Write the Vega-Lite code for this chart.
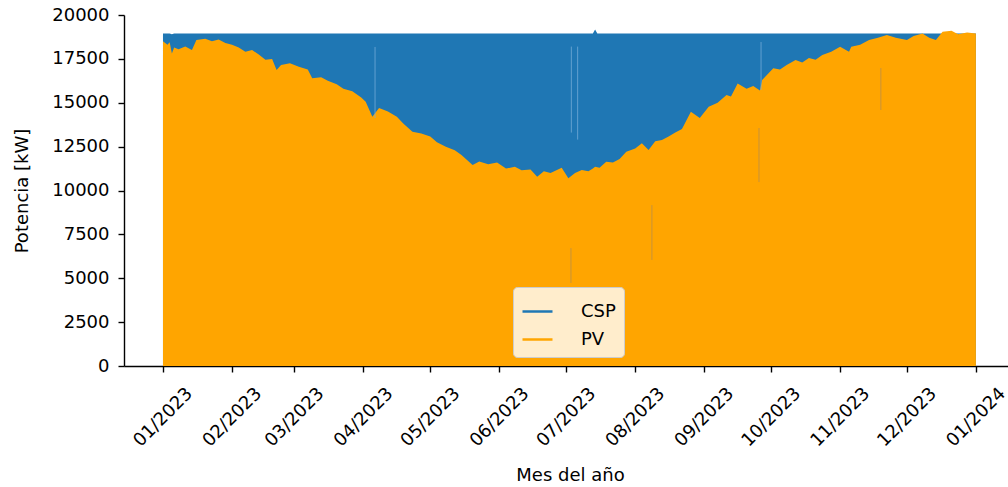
{
  "$schema": "https://vega.github.io/schema/vega-lite/v6.json",
  "width": 884,
  "height": 351,
  "autosize": {"type": "none"},
  "padding": {"left": 124, "top": 15, "right": 0, "bottom": 121},
  "background": "white",
  "datasets": {
    "power": [
      {"d": "2023-01-01", "csp": 18950, "pv": 18500},
      {"d": "2023-01-03", "csp": 18950, "pv": 18300},
      {"d": "2023-01-04", "csp": 18950, "pv": 18450},
      {"d": "2023-01-05", "csp": 18900, "pv": 17800},
      {"d": "2023-01-06", "csp": 18950, "pv": 18150},
      {"d": "2023-01-08", "csp": 18950, "pv": 18050},
      {"d": "2023-01-11", "csp": 18950, "pv": 18200},
      {"d": "2023-01-14", "csp": 18950, "pv": 18000},
      {"d": "2023-01-16", "csp": 18950, "pv": 18575},
      {"d": "2023-01-20", "csp": 18950, "pv": 18650},
      {"d": "2023-01-23", "csp": 18950, "pv": 18500},
      {"d": "2023-01-26", "csp": 18950, "pv": 18600},
      {"d": "2023-01-29", "csp": 18950, "pv": 18400},
      {"d": "2023-02-01", "csp": 18950, "pv": 18300},
      {"d": "2023-02-04", "csp": 18950, "pv": 18150},
      {"d": "2023-02-07", "csp": 18950, "pv": 17900},
      {"d": "2023-02-10", "csp": 18950, "pv": 18000},
      {"d": "2023-02-13", "csp": 18950, "pv": 17750},
      {"d": "2023-02-16", "csp": 18950, "pv": 17450},
      {"d": "2023-02-19", "csp": 18950, "pv": 17500},
      {"d": "2023-02-21", "csp": 18950, "pv": 16870},
      {"d": "2023-02-23", "csp": 18950, "pv": 17150},
      {"d": "2023-02-27", "csp": 18950, "pv": 17250},
      {"d": "2023-03-03", "csp": 18950, "pv": 17050},
      {"d": "2023-03-07", "csp": 18950, "pv": 16900},
      {"d": "2023-03-09", "csp": 18950, "pv": 16400},
      {"d": "2023-03-13", "csp": 18950, "pv": 16450},
      {"d": "2023-03-16", "csp": 18950, "pv": 16250},
      {"d": "2023-03-20", "csp": 18950, "pv": 16050},
      {"d": "2023-03-23", "csp": 18950, "pv": 15800},
      {"d": "2023-03-27", "csp": 18950, "pv": 15650},
      {"d": "2023-03-31", "csp": 18950, "pv": 15300},
      {"d": "2023-04-02", "csp": 18950, "pv": 15050},
      {"d": "2023-04-05", "csp": 18950, "pv": 14200},
      {"d": "2023-04-08", "csp": 18950, "pv": 14700},
      {"d": "2023-04-12", "csp": 18950, "pv": 14500},
      {"d": "2023-04-16", "csp": 18950, "pv": 14200},
      {"d": "2023-04-19", "csp": 18950, "pv": 13800},
      {"d": "2023-04-23", "csp": 18950, "pv": 13350},
      {"d": "2023-04-27", "csp": 18950, "pv": 13250},
      {"d": "2023-05-01", "csp": 18950, "pv": 13070},
      {"d": "2023-05-04", "csp": 18950, "pv": 12750},
      {"d": "2023-05-08", "csp": 18950, "pv": 12500},
      {"d": "2023-05-12", "csp": 18950, "pv": 12300},
      {"d": "2023-05-15", "csp": 18950, "pv": 12020},
      {"d": "2023-05-20", "csp": 18950, "pv": 11450},
      {"d": "2023-05-23", "csp": 18950, "pv": 11650},
      {"d": "2023-05-27", "csp": 18950, "pv": 11500},
      {"d": "2023-05-31", "csp": 18950, "pv": 11600},
      {"d": "2023-06-04", "csp": 18950, "pv": 11250},
      {"d": "2023-06-08", "csp": 18950, "pv": 11350},
      {"d": "2023-06-11", "csp": 18950, "pv": 11150},
      {"d": "2023-06-15", "csp": 18950, "pv": 11200},
      {"d": "2023-06-18", "csp": 18950, "pv": 10790},
      {"d": "2023-06-21", "csp": 18950, "pv": 11100},
      {"d": "2023-06-24", "csp": 18950, "pv": 11000},
      {"d": "2023-06-29", "csp": 18950, "pv": 11300},
      {"d": "2023-07-02", "csp": 18950, "pv": 10700},
      {"d": "2023-07-05", "csp": 18950, "pv": 11000},
      {"d": "2023-07-08", "csp": 18950, "pv": 11170},
      {"d": "2023-07-11", "csp": 18950, "pv": 11100},
      {"d": "2023-07-13", "csp": 18950, "pv": 11250},
      {"d": "2023-07-14", "csp": 19180, "pv": 11360},
      {"d": "2023-07-15", "csp": 18950, "pv": 11330},
      {"d": "2023-07-16", "csp": 18950, "pv": 11300},
      {"d": "2023-07-19", "csp": 18950, "pv": 11640},
      {"d": "2023-07-22", "csp": 18950, "pv": 11600},
      {"d": "2023-07-25", "csp": 18950, "pv": 11800},
      {"d": "2023-07-28", "csp": 18950, "pv": 12210},
      {"d": "2023-08-01", "csp": 18950, "pv": 12400},
      {"d": "2023-08-04", "csp": 18950, "pv": 12690},
      {"d": "2023-08-07", "csp": 18950, "pv": 12310},
      {"d": "2023-08-10", "csp": 18950, "pv": 12800},
      {"d": "2023-08-13", "csp": 18950, "pv": 12880},
      {"d": "2023-08-16", "csp": 18950, "pv": 13070},
      {"d": "2023-08-19", "csp": 18950, "pv": 13300},
      {"d": "2023-08-22", "csp": 18950, "pv": 13500},
      {"d": "2023-08-26", "csp": 18950, "pv": 14490},
      {"d": "2023-08-30", "csp": 18950, "pv": 14130},
      {"d": "2023-09-03", "csp": 18950, "pv": 14770},
      {"d": "2023-09-07", "csp": 18950, "pv": 15000},
      {"d": "2023-09-11", "csp": 18950, "pv": 15440},
      {"d": "2023-09-13", "csp": 18950, "pv": 15350},
      {"d": "2023-09-16", "csp": 18950, "pv": 16100},
      {"d": "2023-09-20", "csp": 18950, "pv": 15800},
      {"d": "2023-09-23", "csp": 18950, "pv": 15950},
      {"d": "2023-09-26", "csp": 18950, "pv": 15700},
      {"d": "2023-09-27", "csp": 18950, "pv": 16300},
      {"d": "2023-10-02", "csp": 18950, "pv": 16960},
      {"d": "2023-10-05", "csp": 18950, "pv": 16900},
      {"d": "2023-10-08", "csp": 18950, "pv": 17150},
      {"d": "2023-10-12", "csp": 18950, "pv": 17440},
      {"d": "2023-10-15", "csp": 18950, "pv": 17300},
      {"d": "2023-10-18", "csp": 18950, "pv": 17550},
      {"d": "2023-10-21", "csp": 18950, "pv": 17450},
      {"d": "2023-10-24", "csp": 18950, "pv": 17720},
      {"d": "2023-10-28", "csp": 18950, "pv": 17900},
      {"d": "2023-11-01", "csp": 18950, "pv": 18190},
      {"d": "2023-11-05", "csp": 18950, "pv": 17900},
      {"d": "2023-11-06", "csp": 18950, "pv": 18190},
      {"d": "2023-11-10", "csp": 18950, "pv": 18300},
      {"d": "2023-11-14", "csp": 18950, "pv": 18575},
      {"d": "2023-11-18", "csp": 18950, "pv": 18700},
      {"d": "2023-11-22", "csp": 18950, "pv": 18860},
      {"d": "2023-11-26", "csp": 18950, "pv": 18700},
      {"d": "2023-12-01", "csp": 18950, "pv": 18575},
      {"d": "2023-12-04", "csp": 18950, "pv": 18800},
      {"d": "2023-12-08", "csp": 18950, "pv": 18950},
      {"d": "2023-12-11", "csp": 18950, "pv": 18700},
      {"d": "2023-12-14", "csp": 18950, "pv": 18575},
      {"d": "2023-12-17", "csp": 18950, "pv": 19050},
      {"d": "2023-12-21", "csp": 18950, "pv": 19100},
      {"d": "2023-12-24", "csp": 18950, "pv": 18900},
      {"d": "2023-12-28", "csp": 18950, "pv": 19000},
      {"d": "2023-12-31T23:00:00Z", "csp": 18950, "pv": 18950}
    ],
    "cspGaps": [
      {"d": "2023-04-06T05:00:00Z", "lo": 14130, "hi": 18180},
      {"d": "2023-07-03T08:00:00Z", "lo": 13300, "hi": 18200},
      {"d": "2023-07-06T04:00:00Z", "lo": 12900, "hi": 18200},
      {"d": "2023-09-26T12:00:00Z", "lo": 15730, "hi": 18460}
    ],
    "pvGaps": [
      {"d": "2023-07-03T04:00:00Z", "lo": 4730, "hi": 6720},
      {"d": "2023-08-08T12:00:00Z", "lo": 6040, "hi": 9170},
      {"d": "2023-09-25T14:00:00Z", "lo": 10480, "hi": 13560},
      {"d": "2023-11-19T07:00:00Z", "lo": 14590, "hi": 16980}
    ]
  },
  "layer": [
    {
      "data": {"name": "power"},
      "transform": [{"fold": ["csp", "pv"], "as": ["key", "value"]}],
      "mark": {"type": "area", "interpolate": "linear"},
      "encoding": {
        "x": {
          "field": "d",
          "type": "temporal",
          "scale": {
            "type": "utc",
            "domain": [
              {"year": 2022, "month": 12, "date": 14, "hours": 12, "utc": true},
              {"year": 2024, "month": 1, "date": 15, "hours": 9, "utc": true}
            ]
          },
          "axis": {
            "title": "Mes del año",
            "format": "%m/%Y",
            "values": [
              {"year": 2023, "month": 1, "date": 1, "utc": true},
              {"year": 2023, "month": 2, "date": 1, "utc": true},
              {"year": 2023, "month": 3, "date": 1, "utc": true},
              {"year": 2023, "month": 4, "date": 1, "utc": true},
              {"year": 2023, "month": 5, "date": 1, "utc": true},
              {"year": 2023, "month": 6, "date": 1, "utc": true},
              {"year": 2023, "month": 7, "date": 1, "utc": true},
              {"year": 2023, "month": 8, "date": 1, "utc": true},
              {"year": 2023, "month": 9, "date": 1, "utc": true},
              {"year": 2023, "month": 10, "date": 1, "utc": true},
              {"year": 2023, "month": 11, "date": 1, "utc": true},
              {"year": 2023, "month": 12, "date": 1, "utc": true},
              {"year": 2024, "month": 1, "date": 1, "utc": true}
            ],
            "labelAngle": -45,
            "labelAlign": "center",
            "labelBaseline": "middle",
            "labelPadding": 45,
            "labelOverlap": false,
            "labelFlush": false,
            "titleX": 446,
            "titleY": 114,
            "titleBaseline": "alphabetic",
            "titleAnchor": null
          }
        },
        "y": {
          "field": "value",
          "type": "quantitative",
          "stack": null,
          "scale": {"domain": [0, 20000], "nice": false, "zero": true},
          "axis": {
            "title": "Potencia [kW]",
            "values": [0, 2500, 5000, 7500, 10000, 12500, 15000, 17500, 20000],
            "format": "d",
            "labelPadding": 9,
            "titleX": -102,
            "titleBaseline": "middle"
          }
        },
        "fill": {
          "field": "key",
          "type": "nominal",
          "scale": {"domain": ["pv", "csp"], "range": ["#ffa500", "#1f77b4"]},
          "legend": null
        }
      }
    },
    {
      "data": {"name": "cspGaps"},
      "mark": {"type": "rule", "color": "#7fb2dc", "strokeWidth": 1, "opacity": 0.7},
      "encoding": {
        "x": {"field": "d", "type": "temporal"},
        "y": {"field": "lo", "type": "quantitative"},
        "y2": {"field": "hi"}
      }
    },
    {
      "data": {"name": "pvGaps"},
      "mark": {"type": "rule", "color": "#b98e4a", "strokeWidth": 1, "opacity": 0.8},
      "encoding": {
        "x": {"field": "d", "type": "temporal"},
        "y": {"field": "lo", "type": "quantitative"},
        "y2": {"field": "hi"}
      }
    },
    {
      "data": {"name": "power"},
      "transform": [{"fold": ["csp", "pv"], "as": ["key", "value"]}],
      "mark": {"type": "line", "opacity": 0},
      "encoding": {
        "x": {"field": "d", "type": "temporal"},
        "y": {"field": "value", "type": "quantitative"},
        "stroke": {
          "field": "key",
          "type": "nominal",
          "scale": {"domain": ["csp", "pv"], "range": ["#1f77b4", "#ffa500"]},
          "legend": {
            "title": null,
            "orient": "none",
            "legendX": 389,
            "legendY": 272,
            "labelExpr": "upper(datum.label)",
            "symbolType": "stroke",
            "symbolSize": 900,
            "symbolStrokeWidth": 2.5,
            "symbolOpacity": 1,
            "labelFontSize": 18,
            "labelFont": "DejaVu Sans",
            "labelColor": "black",
            "labelOffset": 27,
            "rowPadding": 2,
            "padding": 8,
            "fillColor": "rgba(255,255,255,0.8)",
            "strokeColor": "#cccccc",
            "cornerRadius": 4
          }
        }
      }
    },
    {
      "mark": {"type": "rule", "color": "black", "strokeWidth": 1.4},
      "encoding": {"y": {"datum": 20000}}
    }
  ],
  "config": {
    "font": "DejaVu Sans",
    "view": {"stroke": null},
    "axis": {
      "labelFont": "DejaVu Sans",
      "labelFontSize": 18,
      "labelColor": "black",
      "titleFont": "DejaVu Sans",
      "titleFontSize": 18,
      "titleFontWeight": "normal",
      "titleColor": "black",
      "domainColor": "black",
      "domainWidth": 1.4,
      "tickColor": "black",
      "tickWidth": 1.4,
      "tickSize": 6,
      "grid": false
    }
  }
}
